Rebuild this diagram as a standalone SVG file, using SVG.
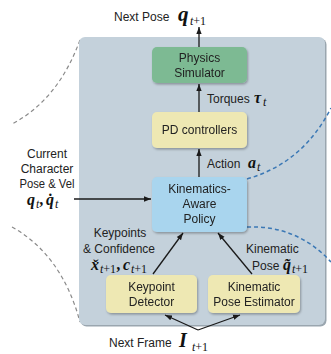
<svg xmlns="http://www.w3.org/2000/svg" width="331" height="354" viewBox="0 0 331 354">
  <defs>
    <style>
      .lbl { font-family: "Liberation Sans", Arial, sans-serif; font-size: 12px; fill: #222; }
      .box-text { font-family: "Liberation Sans", Arial, sans-serif; font-size: 12px; fill: #222; text-anchor: middle; }
      .math { font-family: "Liberation Serif", "Times New Roman", serif; font-style: italic; font-weight: bold; fill: #111; }
      .sub { font-family: "Liberation Serif", "Times New Roman", serif; font-size: 12px; fill: #111; }
      .sub .it { font-style: italic; }
      .wire { stroke: #1a1a1a; stroke-width: 1.3; fill: none; marker-end: url(#ah); }
      .guide-gray { stroke: #8a8a8a; stroke-width: 1.2; fill: none; stroke-dasharray: 4 3; }
      .guide-blue { stroke: #3b78b5; stroke-width: 1.5; fill: none; stroke-dasharray: 4 3; }
      .node { filter: url(#sh); }
    </style>
    <marker id="ah" viewBox="0 0 10 10" refX="10" refY="5" markerWidth="7" markerHeight="7" orient="auto" markerUnits="userSpaceOnUse">
      <path d="M0,1.2 L10,5 L0,8.8 z" fill="#1a1a1a"/>
    </marker>
    <filter id="sh" x="-10%" y="-10%" width="130%" height="140%">
      <feDropShadow dx="1" dy="1.5" stdDeviation="0.8" flood-color="#000" flood-opacity="0.3"/>
    </filter>
  </defs>

  <rect width="331" height="354" fill="#ffffff"/>

  <!-- dashed guide curves behind the panel -->
  <g id="guides">
    <path class="guide-gray" d="M80,40 Q58,100 12,124"/>
    <path class="guide-gray" d="M12,227 Q62,255 80,322"/>
  </g>

  <!-- system panel -->
  <rect x="80.5" y="38.5" width="246" height="288" rx="6" fill="#9aa6af"/>
  <rect x="79" y="37" width="246" height="288" rx="6" fill="#c4d1db"/>

  <!-- dashed guide curves over the panel -->
  <g id="guides-blue">
    <path class="guide-blue" d="M247,179 Q303,163 331,108"/>
    <path class="guide-blue" d="M247,227 Q297,225 331,262"/>
  </g>

  <!-- connectors -->
  <g id="connectors">
    <line class="wire" x1="199" y1="47" x2="199" y2="27"/>
    <line class="wire" x1="199" y1="112" x2="199" y2="84"/>
    <line class="wire" x1="199" y1="177" x2="199" y2="149"/>
    <line class="wire" x1="74" y1="199" x2="151" y2="199"/>
    <line class="wire" x1="153" y1="274" x2="183" y2="233"/>
    <line class="wire" x1="252" y1="274" x2="218" y2="233"/>
    <line class="wire" x1="198" y1="330" x2="165" y2="315"/>
    <line class="wire" x1="198" y1="330" x2="240" y2="315"/>
  </g>

  <!-- nodes -->
  <g id="physics-simulator" class="node">
    <rect x="152" y="47" width="95" height="36" rx="5" fill="#7dba93"/>
    <text class="box-text" x="199.5" y="62">Physics</text>
    <text class="box-text" x="199.5" y="77">Simulator</text>
  </g>

  <g id="pd-controllers" class="node">
    <rect x="152" y="112" width="95" height="36" rx="5" fill="#eee8b3"/>
    <text class="box-text" x="199.5" y="134">PD controllers</text>
  </g>

  <g id="policy" class="node">
    <rect x="152" y="177" width="95" height="55" rx="5" fill="#a9d5ee"/>
    <text class="box-text" x="199.5" y="193">Kinematics-</text>
    <text class="box-text" x="199.5" y="208">Aware</text>
    <text class="box-text" x="199.5" y="223">Policy</text>
  </g>

  <g id="keypoint-detector" class="node">
    <rect x="106" y="275" width="91" height="38" rx="5" fill="#eee8b3"/>
    <text class="box-text" x="151.5" y="291">Keypoint</text>
    <text class="box-text" x="151.5" y="306">Detector</text>
  </g>

  <g id="pose-estimator" class="node">
    <rect x="208" y="275" width="92" height="38" rx="5" fill="#eee8b3"/>
    <text class="box-text" x="254" y="291">Kinematic</text>
    <text class="box-text" x="254" y="306">Pose Estimator</text>
  </g>

  <!-- labels -->
  <g id="labels">
    <text class="lbl" x="114" y="21" font-size="13">Next Pose</text>
    <text class="math" x="178" y="21" font-size="21">q</text>
    <text class="sub" x="190" y="25" font-size="13"><tspan class="it">t</tspan>+1</text>

    <text class="lbl" x="207" y="103">Torques</text>
    <text class="math" x="254" y="103" font-size="16">τ</text>
    <text class="sub" x="263" y="106"><tspan class="it">t</tspan></text>

    <text class="lbl" x="207" y="168" font-size="13">Action</text>
    <text class="math" x="248" y="168" font-size="16">a</text>
    <text class="sub" x="257" y="171"><tspan class="it">t</tspan></text>

    <text class="lbl" x="47" y="158" text-anchor="middle">Current</text>
    <text class="lbl" x="47" y="173" text-anchor="middle">Character</text>
    <text class="lbl" x="47" y="188" text-anchor="middle" textLength="55" lengthAdjust="spacingAndGlyphs">Pose &amp; Vel</text>
    <text class="math" x="27" y="205" font-size="16">q</text>
    <text class="sub" x="36" y="208"><tspan class="it">t</tspan></text>
    <text class="math" x="40" y="205" font-size="16">,</text>
    <text class="math" x="46" y="205" font-size="16">q̇</text>
    <text class="sub" x="55" y="208"><tspan class="it">t</tspan></text>

    <text class="lbl" x="120" y="237" text-anchor="middle">Keypoints</text>
    <text class="lbl" x="119" y="253" text-anchor="middle">&amp; Confidence</text>
    <text class="math" x="91" y="270" font-size="16">x̌</text>
    <text class="sub" x="100" y="273"><tspan class="it">t</tspan>+1</text>
    <text class="math" x="117" y="270" font-size="16">,</text>
    <text class="math" x="123" y="270" font-size="16">c</text>
    <text class="sub" x="131" y="273"><tspan class="it">t</tspan>+1</text>

    <text class="lbl" x="246" y="253">Kinematic</text>
    <text class="lbl" x="252" y="270">Pose</text>
    <text class="math" x="283" y="270" font-size="16">q̃</text>
    <text class="sub" x="292" y="273"><tspan class="it">t</tspan>+1</text>

    <text class="lbl" x="109" y="347" font-size="12.5">Next Frame</text>
    <text class="math" x="179" y="347" font-size="20" font-weight="normal">I</text>
    <text class="sub" x="192" y="351" font-size="13"><tspan class="it">t</tspan>+1</text>
  </g>
</svg>
